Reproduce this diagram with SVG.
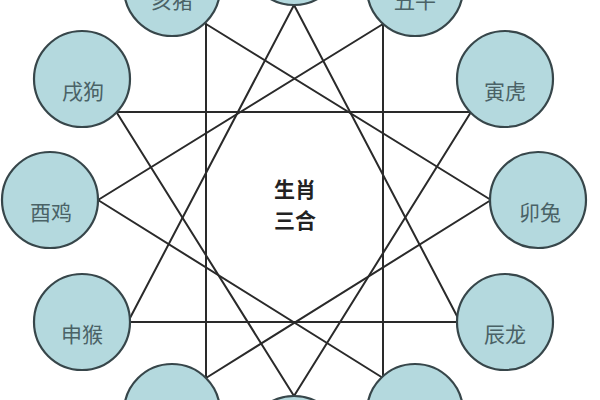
<svg xmlns="http://www.w3.org/2000/svg" width="600" height="400" viewBox="0 0 600 400">
<style>
.bg{fill:#ffffff}
.node circle{fill:#b4d9de;stroke:#37464a;stroke-width:2.2}
.node text{font-family:"Noto Sans CJK SC","Noto Sans CJK TC",sans-serif;font-size:21px;fill:#4a6266;text-anchor:middle;dominant-baseline:central}
.conn line{stroke:#2a2a2a;stroke-width:2;stroke-linecap:round}
.title{font-family:"Noto Sans CJK SC","Noto Sans CJK TC",sans-serif;font-size:21px;font-weight:bold;fill:#222;text-anchor:middle;dominant-baseline:central}
</style>
<rect class="bg" x="0" y="0" width="600" height="400"/>
<g id="connectors" class="conn">
<line x1="130" y1="322" x2="457" y2="322"/>
<line x1="117" y1="112" x2="471" y2="112"/>
<line x1="206" y1="24" x2="206" y2="378"/>
<line x1="383" y1="24" x2="383" y2="378"/>
<line x1="130" y1="318" x2="294" y2="5"/>
<line x1="458" y1="318" x2="294" y2="5"/>
<line x1="117" y1="113" x2="294" y2="396"/>
<line x1="471" y1="112" x2="294" y2="396"/>
<line x1="206" y1="24" x2="491" y2="200"/>
<line x1="206" y1="378" x2="491" y2="200"/>
<line x1="383" y1="24" x2="98" y2="200"/>
<line x1="383" y1="378" x2="98" y2="200"/>
</g>
<g id="node-zi" class="node"><circle cx="294" cy="-43" r="48"/></g>
<g id="node-chou" class="node"><circle cx="415" cy="-12" r="48"/><text x="415" y="-1">丑牛</text></g>
<g id="node-yin" class="node"><circle cx="505" cy="79" r="48"/><text x="505" y="90">寅虎</text></g>
<g id="node-mao" class="node"><circle cx="538" cy="200" r="48"/><text x="540" y="211">卯兔</text></g>
<g id="node-chen" class="node"><circle cx="505" cy="322" r="48"/><text x="505" y="333">辰龙</text></g>
<g id="node-si" class="node"><circle cx="415" cy="412" r="48"/></g>
<g id="node-wu" class="node"><circle cx="294" cy="444" r="48"/></g>
<g id="node-wei" class="node"><circle cx="172" cy="412" r="48"/></g>
<g id="node-shen" class="node"><circle cx="82" cy="322" r="48"/><text x="82" y="333">申猴</text></g>
<g id="node-you" class="node"><circle cx="50" cy="200" r="48"/><text x="51" y="211">酉鸡</text></g>
<g id="node-xu" class="node"><circle cx="82" cy="79" r="48"/><text x="83" y="90">戌狗</text></g>
<g id="node-hai" class="node"><circle cx="172" cy="-12" r="48"/><text x="172" y="-1">亥猪</text></g>
<g id="center-label">
<text class="title" x="295" y="188">生肖</text>
<text class="title" x="295" y="219">三合</text>
</g>
</svg>
